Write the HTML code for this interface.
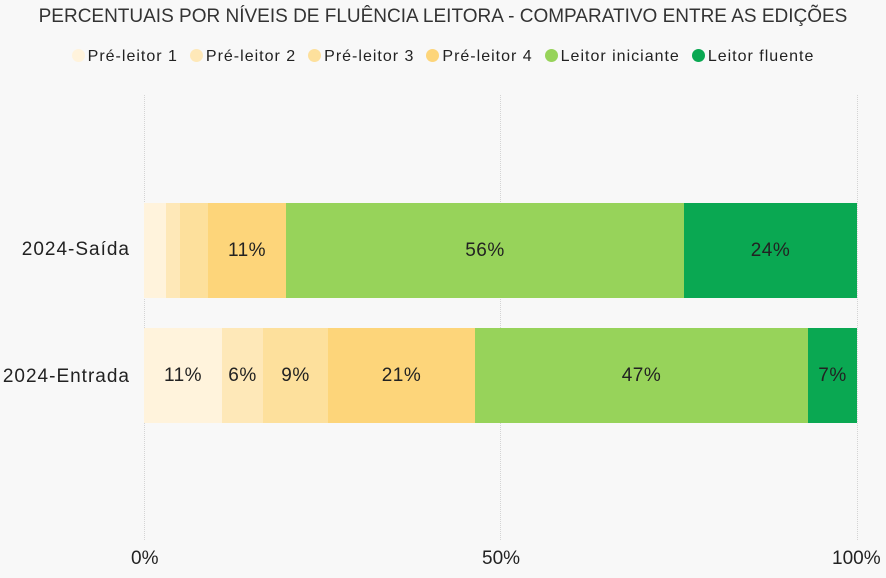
<!DOCTYPE html>
<html><head><meta charset="utf-8"><style>
body{margin:0;width:886px;height:578px;background:#f8f8f8;overflow:hidden;font-family:"Liberation Sans Narrow","Liberation Sans",sans-serif;color:#222;position:relative}
.a{position:absolute}
.t{left:0;width:886px;top:6px;text-align:center;font-size:19px;color:#333}
.lg{top:48px;left:0;width:886px;text-align:center;font-size:16px;white-space:nowrap;letter-spacing:1px}
.lg span{display:inline-block;margin:0 6px}
.lg i{display:inline-block;width:13px;height:13px;border-radius:50%;vertical-align:-1px;margin-right:3px}
.g{width:0;border-left:1px dotted #d4d4d4;top:95px;height:445px}
.s{height:95px;display:flex;align-items:center;justify-content:center;font-size:19px;color:#222;letter-spacing:0.5px}
.yl{font-size:19px;text-align:right;width:130px;left:0;letter-spacing:1px}
.xl{font-size:19px;top:548px}
</style></head><body>
<div class="a t">PERCENTUAIS POR NÍVEIS DE FLUÊNCIA LEITORA - COMPARATIVO ENTRE AS EDIÇÕES</div>
<div class="a lg"><span><i style="background:#fff3dc"></i>Pré-leitor 1</span><span><i style="background:#fee8b8"></i>Pré-leitor 2</span><span><i style="background:#fde09c"></i>Pré-leitor 3</span><span><i style="background:#fdd57a"></i>Pré-leitor 4</span><span><i style="background:#97d35a"></i>Leitor iniciante</span><span><i style="background:#0aa852"></i>Leitor fluente</span></div>
<div class="a g" style="left:144px"></div><div class="a g" style="left:500px"></div><div class="a g" style="left:857px"></div>
<div class="a s" style="top:203px;left:144px;width:22px;background:#fff3dc"></div>
<div class="a s" style="top:203px;left:166px;width:14px;background:#fee8b8"></div>
<div class="a s" style="top:203px;left:180px;width:28px;background:#fde09c"></div>
<div class="a s" style="top:203px;left:208px;width:78px;background:#fdd57a">11%</div>
<div class="a s" style="top:203px;left:286px;width:398px;background:#97d35a">56%</div>
<div class="a s" style="top:203px;left:684px;width:173px;background:#0aa852">24%</div>
<div class="a s" style="top:328px;left:144px;width:78px;background:#fff3dc">11%</div>
<div class="a s" style="top:328px;left:222px;width:41px;background:#fee8b8">6%</div>
<div class="a s" style="top:328px;left:263px;width:65px;background:#fde09c">9%</div>
<div class="a s" style="top:328px;left:328px;width:147px;background:#fdd57a">21%</div>
<div class="a s" style="top:328px;left:475px;width:333px;background:#97d35a">47%</div>
<div class="a s" style="top:328px;left:808px;width:49px;background:#0aa852">7%</div>
<div class="a yl" style="top:239px">2024-Saída</div>
<div class="a yl" style="top:366px">2024-Entrada</div>
<div class="a xl" style="left:131px">0%</div>
<div class="a xl" style="left:482px">50%</div>
<div class="a xl" style="left:832px">100%</div>
</body></html>
